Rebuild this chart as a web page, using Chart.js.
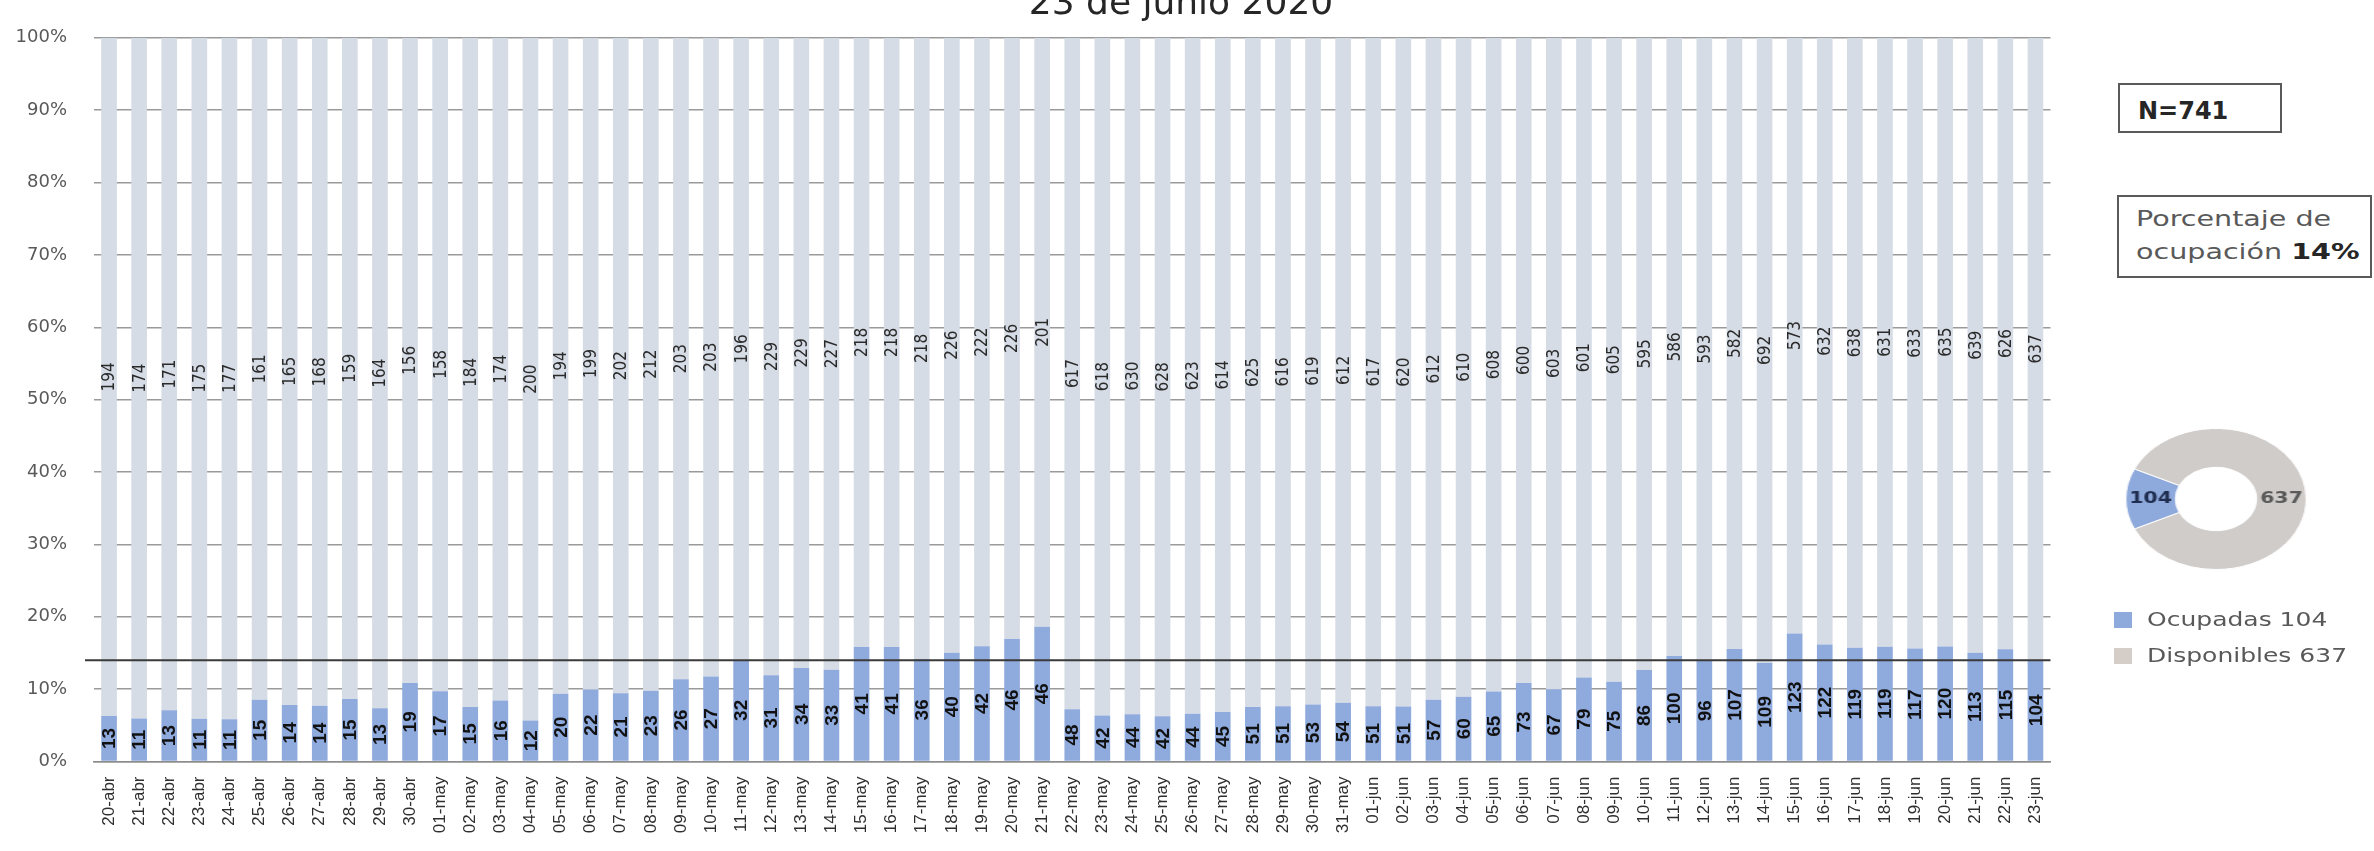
<!DOCTYPE html>
<html>
<head>
<meta charset="utf-8">
<script src="https://cdn.jsdelivr.net/npm/chart.js@4.4.1/dist/chart.umd.min.js"></script>
<style>
html,body{margin:0;padding:0;background:#fff;width:2374px;height:851px;overflow:hidden;}
#main{position:absolute;left:0;top:0;width:2374px;height:851px;}
.box{position:absolute;border:2px solid #5a5a5a;box-sizing:border-box;background:#fff;}
.txt{position:absolute;font-family:"DejaVu Sans",sans-serif;white-space:nowrap;transform-origin:0 50%;}
.sq{position:absolute;width:18px;height:16px;}
#dwrap{position:absolute;left:2145px;top:428px;width:142px;height:142px;transform:scaleX(1.28);transform-origin:50% 50%;}
</style>
</head>
<body>
<div id="main"><canvas id="c"></canvas></div>
<div class="box" style="left:2118px;top:83px;width:164px;height:50px;"></div>
<div class="txt" id="ntxt" style="left:2138px;top:99px;font-size:24px;line-height:24px;font-weight:bold;color:#262626;"></div>
<div class="box" style="left:2117px;top:195px;width:255px;height:83px;"></div>
<div class="txt" id="ptxt" style="left:2136px;top:203px;font-size:21px;line-height:33px;color:#595959;transform:scaleX(1.36);"></div>
<div id="dwrap"><canvas id="d" width="142" height="142"></canvas></div>
<div id="legend"></div>
<script>
// ---- data ----
const chartTitle = '23 de junio 2020';
const categories = ['20-abr','21-abr','22-abr','23-abr','24-abr','25-abr','26-abr','27-abr','28-abr','29-abr','30-abr',
 '01-may','02-may','03-may','04-may','05-may','06-may','07-may','08-may','09-may','10-may','11-may','12-may','13-may','14-may','15-may','16-may','17-may','18-may','19-may','20-may','21-may','22-may','23-may','24-may','25-may','26-may','27-may','28-may','29-may','30-may','31-may',
 '01-jun','02-jun','03-jun','04-jun','05-jun','06-jun','07-jun','08-jun','09-jun','10-jun','11-jun','12-jun','13-jun','14-jun','15-jun','16-jun','17-jun','18-jun','19-jun','20-jun','21-jun','22-jun','23-jun'];
const ocupadas = [13,11,13,11,11,15,14,14,15,13,19,
 17,15,16,12,20,22,21,23,26,27,32,31,34,33,41,41,36,40,42,46,46,48,42,44,42,44,45,51,51,53,54,
 51,51,57,60,65,73,67,79,75,86,100,96,107,109,123,122,119,119,117,120,113,115,104];
const disponibles = [194,174,171,175,177,161,165,168,159,164,156,
 158,184,174,200,194,199,202,212,203,203,196,229,229,227,218,218,218,226,222,226,201,617,618,630,628,623,614,625,616,619,612,
 617,620,612,610,608,600,603,601,605,595,586,593,582,692,573,632,638,631,633,635,639,626,637];
const yTickValues = [0,10,20,30,40,50,60,70,80,90,100];
const ocupacionPct = 14;
const donutNames = ['Ocupadas','Disponibles'];
const donutValues = [104, 637];

// ---- derived tables ----
const pctOcup = ocupadas.map((v,i)=> v/(v+disponibles[i])*100);
const pctDisp = disponibles.map((v,i)=> v/(v+ocupadas[i])*100);
const rawCounts = [ocupadas, disponibles];

const barLabelPlugin = {
  id:'barLabels',
  afterDatasetsDraw(chart){
    const ctx = chart.ctx;
    const ys = chart.scales.y;
    const ly = ys.getPixelForValue(ocupacionPct);
    ctx.save();
    ctx.strokeStyle = '#3a3a3a';
    ctx.lineWidth = 2;
    ctx.beginPath();
    ctx.moveTo(chart.chartArea.left - 9, ly);
    ctx.lineTo(chart.chartArea.right, ly);
    ctx.stroke();
    ctx.restore();
    const styles = [
      {font:'bold 19px "Liberation Sans", Arial, sans-serif', color:'#111111'},
      {font:'17px "Liberation Sans Narrow", "DejaVu Sans Condensed", Arial, sans-serif', color:'#2a2a2a'}
    ];
    chart.data.datasets.forEach((ds, di)=>{
      const meta = chart.getDatasetMeta(di);
      meta.data.forEach((el, i)=>{
        const p = el.getProps(['x','y','base'], true);
        const cy = (p.y + p.base)/2;
        ctx.save();
        ctx.translate(p.x, cy);
        ctx.rotate(-Math.PI/2);
        ctx.font = styles[di].font;
        ctx.fillStyle = styles[di].color;
        ctx.textAlign = 'center';
        ctx.textBaseline = 'middle';
        ctx.fillText(String(rawCounts[di][i]), 0, 1);
        ctx.restore();
      });
    });
  }
};

const titlePlugin = {
  id:'topTitle',
  afterDraw(chart){
    const ctx = chart.ctx;
    ctx.save();
    ctx.font = '36px "DejaVu Sans", sans-serif';
    ctx.fillStyle = '#262626';
    ctx.textAlign = 'center';
    ctx.textBaseline = 'alphabetic';
    ctx.fillText(chartTitle, 1181, 14);
    ctx.restore();
  }
};

new Chart(document.getElementById('c'), {
  type:'bar',
  data:{
    labels: categories,
    datasets:[
      {label:'Ocupadas', data:pctOcup, backgroundColor:'#8FAADC', borderWidth:0, barPercentage:0.52, categoryPercentage:1},
      {label:'Disponibles', data:pctDisp, backgroundColor:'#D6DCE5', borderWidth:0, barPercentage:0.52, categoryPercentage:1}
    ]
  },
  options:{
    responsive:true,
    maintainAspectRatio:false,
    animation:false,
    layout:{padding:{top:21, right:323.5, left:0, bottom:0}},
    plugins:{legend:{display:false}, tooltip:{enabled:false}, title:{display:false}},
    scales:{
      x:{
        stacked:true,
        grid:{display:false, drawTicks:false},
        border:{display:true, color:'#8c8c8c', width:1.5},
        ticks:{autoSkip:false, maxRotation:90, minRotation:90, padding:15,
          color:'#2e2e2e', font:{family:'"Liberation Sans", Arial, sans-serif', size:17}},
        afterFit(scale){ scale.height = 89.5; }
      },
      y:{
        stacked:true,
        min:0, max:100,
        afterBuildTicks(scale){ scale.ticks = yTickValues.map(v=>({value:v})); },
        grid:{color:'#9a9a9a', lineWidth:1.5, drawTicks:false},
        border:{display:false},
        ticks:{padding:27, color:'#595959', font:{family:'"DejaVu Sans", sans-serif', size:18},
          callback:(v)=> v + '%'},
        afterFit(scale){ scale.width = 94; }
      }
    }
  },
  plugins:[barLabelPlugin, titlePlugin]
});

// ---- donut ----
const donutColors = ['#8EA9DB','#D0CCCA'];
const donutLabelPlugin = {
  id:'donutLabels',
  afterDatasetsDraw(chart){
    const ctx = chart.ctx;
    const meta = chart.getDatasetMeta(0);
    const cols = ['#1f2d4f','#5a5a5a'];
    meta.data.forEach((arc,i)=>{
      const pos = arc.tooltipPosition();
      ctx.save();
      ctx.font = 'bold 16px "DejaVu Sans", sans-serif';
      ctx.fillStyle = cols[i];
      ctx.textAlign = 'center';
      ctx.textBaseline = 'middle';
      ctx.fillText(String(chart.data.datasets[0].data[i]), pos.x, pos.y);
      ctx.restore();
    });
  }
};
const occShare = donutValues[0]/(donutValues[0]+donutValues[1]);
new Chart(document.getElementById('d'), {
  type:'doughnut',
  data:{labels:donutNames, datasets:[{data:donutValues, backgroundColor:donutColors, borderWidth:1, borderColor:'#ffffff'}]},
  options:{responsive:false, animation:false, cutout:'45%', rotation: 270 - occShare*180,
    layout:{padding:0}, plugins:{legend:{display:false}, tooltip:{enabled:false}}},
  plugins:[donutLabelPlugin]
});

// ---- side texts ----
const total = donutValues[0] + donutValues[1];
document.getElementById('ntxt').textContent = 'N=' + total;
document.getElementById('ptxt').innerHTML = 'Porcentaje de<br>ocupación <b style="color:#262626">' + Math.round(occShare*100) + '%</b>';
const legendColors = ['#8EA9DB','#D5CDC8'];
const legTops = [609, 645];
const lg = document.getElementById('legend');
donutNames.forEach((n,i)=>{
  const sq = document.createElement('div');
  sq.className = 'sq';
  sq.style.left = '2114px';
  sq.style.top = (legTops[i]+3) + 'px';
  sq.style.background = legendColors[i];
  lg.appendChild(sq);
  const t = document.createElement('div');
  t.className = 'txt';
  t.style.cssText = 'left:2147px;top:' + legTops[i] + 'px;font-size:20px;line-height:20px;color:#595959;transform:scaleX(1.25);';
  t.textContent = n + ' ' + donutValues[i];
  lg.appendChild(t);
});
</script>
</body>
</html>
